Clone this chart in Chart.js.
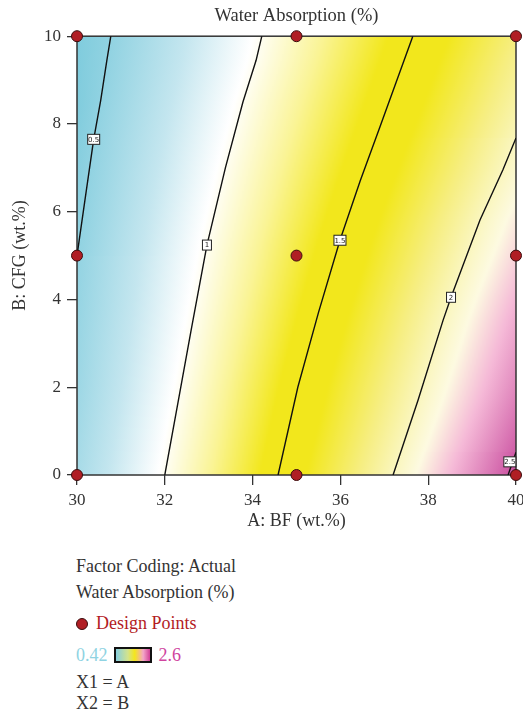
<!DOCTYPE html>
<html lang="en">

<head>
    <meta charset="UTF-8">
    <meta name="viewport" content="width=device-width, initial-scale=1.0">
    <title>Water Absorption (%)</title>
    <style>
        body { margin: 0; background: #fff; font-family: "Liberation Serif", serif; color: #333; }
        #wrap { position: relative; width: 523px; height: 716px; }
        #grafico { position: absolute; left: 0; top: 0; }
        .nota { position: absolute; left: 76px; font-size: 18px; line-height: 20px; white-space: nowrap; }
        .punto { display: inline-block; width: 10px; height: 10px; border-radius: 50%; background: #b01e24; border: 1px solid #3b0d0d; margin-right: 8px; vertical-align: -1px; }
        .rojo { color: #b31b24; }
        .barra { display: inline-block; width: 34px; height: 12px; border: 2px solid #111; vertical-align: -2px; margin: 0 7px 0 6px;
            background: linear-gradient(to right, #86cede 0%, #d3e38c 35%, #f4e61c 55%, #f3a6c8 80%, #d23f96 100%); }
    </style>
</head>

<body>
    <div id="wrap">
        <canvas id="grafico" width="523" height="540"></canvas>
        <div class="nota" style="top:556px">Factor Coding: Actual</div>
        <div class="nota" style="top:582px">Water Absorption (%)</div>
        <div class="nota rojo" style="top:613px"><span class="punto"></span>Design Points</div>
        <div class="nota" style="top:645px"><span style="color:#8fd3e2">0.42</span><span class="barra"></span><span style="color:#d0449e">2.6</span></div>
        <div class="nota" style="top:672px">X1 = A</div>
        <div class="nota" style="top:693px">X2 = B</div>
    </div>

    <script src="https://cdn.jsdelivr.net/npm/chart.js"></script>
    <script>
        // design points (A: BF, B: CFG)
        const puntosA = [30, 30, 30, 35, 35, 35, 40, 40, 40]
        const puntosB = [0, 5, 10, 0, 5, 10, 0, 5, 10]

        // contour levels and their lines as [A, B], B going up
        const niveles = [0.5, 1, 1.5, 2, 2.5]
        const linea05 = [[30, 5], [30.18, 6.26], [30.38, 7.65], [30.54, 8.54], [30.68, 9.45], [30.77, 10]]
        const linea10 = [[32.0, 0], [32.3, 1.65], [32.6, 3.3], [32.96, 5.24], [33.38, 7.0], [33.78, 8.5], [34.08, 9.45], [34.21, 10]]
        const linea15 = [[34.58, 0], [35.03, 2.0], [35.5, 3.7], [35.99, 5.35], [36.45, 6.7], [36.9, 7.93], [37.65, 10]]
        const linea20 = [[37.2, 0], [37.77, 1.71], [38.34, 3.53], [38.52, 4.05], [39.18, 5.81], [39.7, 6.95], [40, 7.68]]
        const linea25 = [[39.82, 0], [40, 0.52]]
        const lineas = [linea05, linea10, linea15, linea20, linea25]

        // where the level tags sit on each line
        const etiquetaA = [30.38, 32.96, 35.99, 38.52, 39.86]
        const etiquetaB = [7.65, 5.24, 5.35, 4.05, 0.3]

        const rangoMin = 0.42
        const rangoMax = 2.6

        // colour ramp of the response
        const rampaValor = [0.42, 0.75, 0.97, 1.2, 1.42, 1.62, 1.85, 2.0, 2.1, 2.25, 2.6]
        const rampaColor = [[128, 204, 221], [196, 230, 239], [255, 255, 255], [250, 244, 150], [242, 231, 28], [242, 231, 28],
            [246, 238, 130], [250, 246, 190], [253, 250, 225], [245, 185, 215], [190, 50, 145]]

        function colorDe(v) {
            if (v <= rampaValor[0]) return `rgb(${rampaColor[0]})`
            for (let i = 1; i < rampaValor.length; i++) {
                if (v <= rampaValor[i]) {
                    let t = (v - rampaValor[i - 1]) / (rampaValor[i] - rampaValor[i - 1])
                    let c = rampaColor[i - 1].map((a, k) => Math.round(a + (rampaColor[i][k] - a) * t))
                    return `rgb(${c})`
                }
            }
            return `rgb(${rampaColor[rampaColor.length - 1]})`
        }

        // A where a line crosses a given B, null if it doesn't
        function cruce(pts, b) {
            if (b < pts[0][1] || b > pts[pts.length - 1][1]) return null
            for (let i = 1; i < pts.length; i++) {
                if (b <= pts[i][1]) {
                    let t = (b - pts[i - 1][1]) / (pts[i][1] - pts[i - 1][1])
                    return pts[i - 1][0] + (pts[i][0] - pts[i - 1][0]) * t
                }
            }
            return null
        }

        const relleno = {
            id: 'relleno',
            beforeDatasetsDraw(chart) {
                const { ctx, chartArea: a, scales: { x, y } } = chart
                ctx.save()
                for (let py = Math.floor(a.top); py < Math.ceil(a.bottom); py++) {
                    let b = Math.min(y.max, Math.max(y.min, y.getValueForPixel(py + 0.5)))
                    let nudos = []
                    lineas.forEach((pts, i) => {
                        let c = cruce(pts, b)
                        if (c !== null) nudos.push([x.getPixelForValue(c), niveles[i]])
                    })
                    if (nudos.length < 2) continue
                    nudos.sort((p, q) => p[0] - q[0])
                    // stretch the outer bands out to the frame
                    let n = nudos.length
                    let m0 = (nudos[1][1] - nudos[0][1]) / (nudos[1][0] - nudos[0][0])
                    let m1 = (nudos[n - 1][1] - nudos[n - 2][1]) / (nudos[n - 1][0] - nudos[n - 2][0])
                    let vIzq = Math.max(rangoMin, nudos[0][1] - (nudos[0][0] - a.left) * m0)
                    let vDer = Math.min(rangoMax, nudos[n - 1][1] + (a.right - nudos[n - 1][0]) * m1)
                    nudos.unshift([a.left, vIzq])
                    nudos.push([a.right, vDer])

                    let g = ctx.createLinearGradient(a.left, 0, a.right, 0)
                    let j = 1
                    for (let px = a.left; px <= a.right; px += 2) {
                        while (j < nudos.length - 1 && px > nudos[j][0]) j++
                        let p = nudos[j - 1], q = nudos[j]
                        let v = q[0] > p[0] ? p[1] + (q[1] - p[1]) * (px - p[0]) / (q[0] - p[0]) : q[1]
                        g.addColorStop((px - a.left) / (a.right - a.left), colorDe(v))
                    }
                    ctx.fillStyle = g
                    ctx.fillRect(a.left, py, a.width, 1)
                }
                ctx.strokeStyle = '#333'
                ctx.lineWidth = 1.5
                ctx.strokeRect(a.left, a.top, a.width, a.height)
                ctx.restore()
            },
            afterDatasetsDraw(chart) {
                const { ctx, scales: { x, y } } = chart
                ctx.save()
                ctx.font = '7px "DejaVu Sans"'
                ctx.textAlign = 'center'
                ctx.textBaseline = 'middle'
                etiquetaA.forEach((a, i) => {
                    let px = x.getPixelForValue(a), py = y.getPixelForValue(etiquetaB[i])
                    let texto = String(niveles[i])
                    let w = texto.length > 1 ? 12 : 9
                    ctx.fillStyle = '#fff'
                    ctx.fillRect(px - w / 2, py - 5, w, 10)
                    ctx.strokeStyle = '#222'
                    ctx.lineWidth = 1
                    ctx.strokeRect(px - w / 2, py - 5, w, 10)
                    ctx.fillStyle = '#222'
                    ctx.fillText(texto, px, py + 0.5)
                })
                ctx.restore()
            }
        }

        let datasets = [{
            data: puntosA.map((a, i) => ({ x: a, y: puntosB[i] })),
            pointRadius: 5.5,
            backgroundColor: '#b01e24',
            borderColor: '#3b0d0d',
            borderWidth: 1,
            clip: false
        }]
        lineas.forEach(pts => {
            datasets.push({
                data: pts.map(p => ({ x: p[0], y: p[1] })),
                showLine: true,
                pointRadius: 0,
                borderColor: '#111',
                borderWidth: 1.4,
                tension: 0
            })
        })

        const fuente = { family: '"Liberation Serif", serif', size: 17 }

        new Chart(document.querySelector('#grafico'), {
            type: 'scatter',
            data: { datasets: datasets },
            plugins: [relleno],
            options: {
                responsive: false,
                animation: false,
                devicePixelRatio: 1,
                layout: { padding: { left: 0, right: 7, top: 0, bottom: 0 } },
                plugins: {
                    legend: { display: false },
                    tooltip: { enabled: false },
                    title: {
                        display: true,
                        text: 'Water Absorption (%)',
                        color: '#333',
                        fullSize: false,
                        font: { family: '"Liberation Serif", serif', size: 18.5, weight: 'normal' },
                        padding: { top: 5, bottom: 9 }
                    }
                },
                scales: {
                    x: {
                        type: 'linear', min: 30, max: 40,
                        ticks: { stepSize: 2, color: '#333', font: fuente, padding: 5 },
                        grid: { drawOnChartArea: false, tickLength: 10, color: '#333', lineWidth: 1.3 },
                        border: { display: false },
                        title: { display: true, text: 'A: BF (wt.%)', color: '#333', font: { family: '"Liberation Serif", serif', size: 18 }, padding: { top: 0, bottom: 8 } },
                        afterFit: s => { s.height = 65; s.paddingLeft = 0; s.paddingRight = 0 }
                    },
                    y: {
                        type: 'linear', min: 0, max: 10,
                        ticks: { stepSize: 2, color: '#333', font: fuente, padding: 6 },
                        grid: { drawOnChartArea: false, tickLength: 10, color: '#333', lineWidth: 1.3 },
                        border: { display: false },
                        title: { display: true, text: 'B: CFG (wt.%)', color: '#333', font: { family: '"Liberation Serif", serif', size: 18 }, padding: { top: 9, bottom: 0 } },
                        afterFit: s => { s.width = 77; s.paddingTop = 0; s.paddingBottom = 0 }
                    }
                }
            }
        })
    </script>
</body>

</html>
